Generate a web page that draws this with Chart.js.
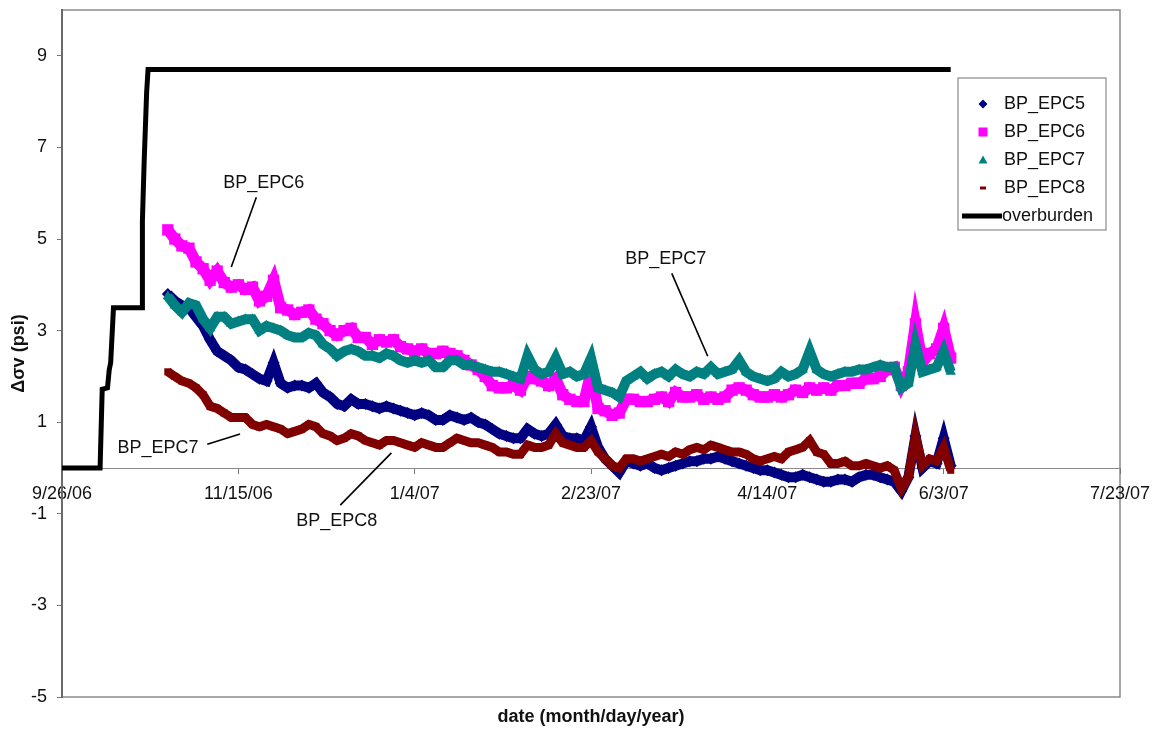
<!DOCTYPE html>
<html><head><meta charset="utf-8">
<script src="https://cdn.jsdelivr.net/npm/chart.js@4.4.1/dist/chart.umd.min.js"></script>
<style>html,body{margin:0;padding:0;background:#fff;} canvas{display:block;}</style>
</head><body>
<canvas id="c" width="1154" height="736"></canvas>
<script>
// ---- data (x = days since 9/26/06) ----
const days = [30,32,34,36,38,40,42,44,46,48,50,52,54,56,58,60,62,64,66,68,70,72,74,76,78,80,82,84,86,88,90,92,94,96,98,100,102,104,106,108,110,112,114,116,118,120,122,124,126,128,130,132,134,136,138,140,142,144,146,148,150,152,154,156,158,160,162,164,166,168,170,172,174,176,178,180,182,184,186,188,190,192,194,196,198,200,202,204,206,208,210,212,214,216,218,220,222,224,226,228,230,232,234,236,238,240,242,244,246,248,250,252];

const epc5 = [3.8,3.65,3.55,3.5,3.3,3.1,2.8,2.55,2.45,2.35,
2.2,2.15,2.05,1.95,1.9,2.3,1.85,1.75,1.8,1.8,
1.75,1.85,1.65,1.55,1.4,1.35,1.5,1.4,1.4,1.35,
1.3,1.35,1.3,1.25,1.2,1.15,1.2,1.15,1.05,1.05,
1.15,1.1,1.05,1.1,1.0,0.95,0.85,0.75,0.7,0.65,
0.65,0.85,0.75,0.7,0.75,0.95,0.7,0.65,0.65,0.6,
0.9,0.45,0.2,0.05,-0.1,0.15,0.1,0.05,0.1,0.0,
-0.05,0.0,0.05,0.1,0.15,0.15,0.2,0.2,0.25,0.2,
0.15,0.1,0.05,0.0,-0.05,-0.05,-0.1,-0.15,-0.2,-0.2,
-0.15,-0.2,-0.25,-0.3,-0.3,-0.25,-0.25,-0.3,-0.2,-0.15,
-0.15,-0.2,-0.25,-0.3,-0.5,-0.2,0.7,0.0,0.15,0.1,
0.65,0.05];

const epc6 = [5.2,5.0,4.85,4.8,4.5,4.35,4.1,4.3,4.05,3.95,
4.0,3.9,3.95,3.65,3.75,4.1,3.5,3.45,3.35,3.4,
3.45,3.25,3.15,3.0,2.9,3.0,3.05,2.85,2.85,2.7,
2.8,2.75,2.8,2.65,2.6,2.55,2.6,2.5,2.5,2.55,
2.5,2.45,2.35,2.25,2.15,2.0,1.8,1.75,1.75,1.8,
1.7,2.0,1.95,1.9,1.8,1.95,1.6,1.5,1.45,1.45,
2.1,1.3,1.25,1.15,1.2,1.5,1.5,1.45,1.45,1.5,
1.55,1.45,1.65,1.55,1.55,1.6,1.5,1.55,1.5,1.55,
1.7,1.75,1.7,1.6,1.55,1.55,1.6,1.55,1.6,1.7,
1.65,1.75,1.7,1.75,1.7,1.8,1.8,1.85,1.85,1.95,
1.95,2.0,2.15,2.2,1.8,2.1,3.15,2.3,2.5,2.6,
3.05,2.4];

const epc7 = [3.75,3.55,3.4,3.6,3.55,3.25,3.05,3.3,3.3,3.15,
3.2,3.25,3.25,3.0,3.1,3.05,3.0,2.9,2.85,2.85,
2.95,2.9,2.7,2.6,2.45,2.55,2.6,2.55,2.45,2.45,
2.4,2.5,2.45,2.35,2.3,2.35,2.3,2.35,2.2,2.2,
2.35,2.35,2.25,2.25,2.2,2.15,2.1,2.1,2.05,2.0,
1.95,2.45,2.15,2.05,2.1,2.4,2.05,2.1,2.0,2.05,
2.4,1.75,1.7,1.65,1.55,1.9,2.0,2.1,1.95,2.05,
2.1,2.0,2.15,2.05,2.0,2.1,2.05,2.2,2.05,2.1,
2.15,2.35,2.1,2.0,1.95,1.9,1.95,2.1,2.0,2.05,
2.15,2.55,2.15,2.05,2.0,2.05,2.1,2.1,2.15,2.15,
2.2,2.25,2.2,2.2,1.75,1.85,2.7,2.1,2.15,2.2,
2.55,2.1];

const epc8 = [2.1,2.0,1.9,1.85,1.75,1.6,1.35,1.3,1.2,1.1,
1.1,1.1,0.95,0.9,0.95,0.9,0.85,0.75,0.8,0.85,
0.95,0.9,0.75,0.7,0.6,0.65,0.75,0.7,0.6,0.55,
0.5,0.6,0.6,0.55,0.5,0.45,0.55,0.5,0.45,0.45,
0.55,0.65,0.6,0.55,0.55,0.5,0.45,0.35,0.35,0.3,
0.3,0.5,0.45,0.45,0.5,0.75,0.55,0.5,0.45,0.45,
0.6,0.35,0.2,0.05,0.0,0.2,0.2,0.15,0.2,0.25,
0.3,0.25,0.35,0.3,0.4,0.45,0.4,0.5,0.45,0.4,
0.35,0.35,0.3,0.2,0.15,0.2,0.25,0.2,0.35,0.4,
0.45,0.6,0.35,0.3,0.1,0.1,0.15,0.05,0.05,0.1,
0.05,0.0,0.05,-0.05,-0.45,-0.2,0.7,0.05,0.2,0.15,
0.45,-0.05];

const obDays   = [0, 10.8, 11.4, 12.9, 13.4, 13.8, 14.6, 22.7, 22.8, 23.3, 24.0, 24.4, 252];
const obValues = [0, 0,    1.72, 1.75, 2.15, 2.3,  3.5,  3.5,  5.4,  6.7,  8.2,  8.7,  8.7];

const seriesNames = ['BP_EPC5','BP_EPC6','BP_EPC7','BP_EPC8','overburden'];
const xTickDays   = [0,50,100,150,200,250,300];
const xTickLabels = ['9/26/06','11/15/06','1/4/07','2/23/07','4/14/07','6/3/07','7/23/07'];
const yTicks      = [-5,-3,-1,1,3,5,7,9];

// callouts: text and leader line ends, in data coordinates
const callouts = [
  {text:'BP_EPC6', at:[57.2,6.22], from:[55.1,5.91], to:[48.0,4.39]},
  {text:'BP_EPC7', at:[171.2,4.56], from:[172.9,4.25], to:[183.1,2.44]},
  {text:'BP_EPC7', at:[27.2,0.44], from:[41.2,0.52], to:[50.5,0.74]},
  {text:'BP_EPC8', at:[77.9,-1.16], from:[78.9,-0.81], to:[93.4,0.33]}
];

// ---- rendering ----
const FONT = "'Liberation Sans', Arial, sans-serif";
const TEXT = '#111';
const pts = (xs, ys) => xs.map((x, i) => ({x, y: ys[i]}));

const styles = [
  {color:'#000080', pointStyle:'rectRot',  radius:6, width:10, order:4},
  {color:'#FF00FF', pointStyle:'rect',     radius:8, width:11, order:3},
  {color:'#008080', pointStyle:'triangle', radius:6, width:10, order:2},
  {color:'#800000', pointStyle:'rect',     radius:5, width:9,  order:1}
];
const seriesData = [epc5, epc6, epc7, epc8];

const datasets = seriesData.map((vals, i) => ({
  label: seriesNames[i],
  data: pts(days, vals),
  showLine: true,
  borderColor: styles[i].color,
  backgroundColor: styles[i].color,
  pointBackgroundColor: styles[i].color,
  pointBorderColor: styles[i].color,
  borderWidth: styles[i].width,
  pointRadius: styles[i].radius,
  pointStyle: styles[i].pointStyle,
  pointBorderWidth: 0,
  tension: 0,
  order: styles[i].order
}));
datasets.push({
  label: seriesNames[4],
  data: pts(obDays, obValues),
  showLine: true,
  borderColor: '#000',
  backgroundColor: '#000',
  borderWidth: 5,
  pointRadius: 0,
  tension: 0,
  borderJoinStyle: 'miter',
  order: 0
});

function drawMarker(ctx, style, x, y, r, color) {
  ctx.fillStyle = color;
  ctx.beginPath();
  if (style === 'rectRot') {
    ctx.moveTo(x, y - r); ctx.lineTo(x + r, y); ctx.lineTo(x, y + r); ctx.lineTo(x - r, y);
  } else if (style === 'rect') {
    ctx.rect(x - r, y - r, 2 * r, 2 * r);
  } else if (style === 'triangle') {
    ctx.moveTo(x, y - r); ctx.lineTo(x + r, y + r * 0.8); ctx.lineTo(x - r, y + r * 0.8);
  } else if (style === 'dash') {
    ctx.rect(x - r, y - r / 2, 2 * r, r);
  }
  ctx.closePath();
  ctx.fill();
}

const framePlugin = {
  id: 'frame',
  beforeDraw(chart) {
    const {ctx, chartArea: a} = chart;
    ctx.save();
    ctx.fillStyle = '#fff';
    ctx.fillRect(0, 0, chart.width, chart.height);
    ctx.strokeStyle = '#8a8a8a';
    ctx.lineWidth = 1.5;
    ctx.strokeRect(a.left, a.top, a.right - a.left, a.bottom - a.top);
    ctx.restore();
  }
};

const calloutPlugin = {
  id: 'callouts',
  afterDatasetsDraw(chart) {
    const {ctx, scales: {x, y}} = chart;
    ctx.save();
    ctx.font = '18px ' + FONT;
    ctx.fillStyle = TEXT;
    ctx.textAlign = 'center';
    ctx.textBaseline = 'middle';
    ctx.strokeStyle = '#000';
    ctx.lineWidth = 1.6;
    callouts.forEach(c => {
      ctx.fillText(c.text, x.getPixelForValue(c.at[0]), y.getPixelForValue(c.at[1]));
      ctx.beginPath();
      ctx.moveTo(x.getPixelForValue(c.from[0]), y.getPixelForValue(c.from[1]));
      ctx.lineTo(x.getPixelForValue(c.to[0]), y.getPixelForValue(c.to[1]));
      ctx.stroke();
    });
    ctx.restore();
  }
};

const legendPlugin = {
  id: 'boxLegend',
  afterDraw(chart) {
    const {ctx, chartArea: a} = chart;
    const bx = a.right - 162, by = a.top + 68, bw = 148, bh = 152;
    ctx.save();
    ctx.fillStyle = '#fff';
    ctx.fillRect(bx, by, bw, bh);
    ctx.strokeStyle = '#8a8a8a';
    ctx.lineWidth = 1.2;
    ctx.strokeRect(bx, by, bw, bh);
    ctx.font = '18px ' + FONT;
    ctx.textBaseline = 'middle';
    ctx.textAlign = 'left';
    const legendMarks = [
      {style:'rectRot', r:4.5}, {style:'rect', r:4.5}, {style:'triangle', r:4.5}, {style:'dash', r:3}
    ];
    seriesNames.forEach((name, i) => {
      const ry = by + 26 + i * 28;
      if (i < 4) {
        drawMarker(ctx, legendMarks[i].style, bx + 25, ry, legendMarks[i].r, styles[i].color);
      } else {
        ctx.fillStyle = '#000';
        ctx.fillRect(bx + 4, ry - 2.5, 40, 5);
      }
      ctx.fillStyle = TEXT;
      ctx.fillText(name, i < 4 ? bx + 46 : bx + 44, ry);
    });
    ctx.restore();
  }
};

new Chart(document.getElementById('c'), {
  type: 'scatter',
  data: {datasets},
  options: {
    responsive: false,
    animation: false,
    devicePixelRatio: 1,
    layout: {padding: {top: 10, right: 34, left: 0, bottom: 0}},
    plugins: {legend: {display: false}, tooltip: {enabled: false}},
    scales: {
      x: {
        type: 'linear', min: 0, max: 300, position: {y: 0},
        afterBuildTicks: s => { s.ticks = xTickDays.map(v => ({value: v})); },
        afterFit: s => { s.paddingLeft = 0; s.paddingRight = 0; },
        ticks: {
          callback: (v, i) => xTickLabels[i],
          font: {family: FONT, size: 18}, color: TEXT, padding: 10,
          maxRotation: 0, autoSkip: false
        },
        grid: {drawOnChartArea: false, drawTicks: true, tickLength: 5, color: '#777'},
        border: {display: true, color: '#8a8a8a', width: 1}
      },
      xTitle: {
        type: 'linear', axis: 'x', min: 0, max: 300, position: 'bottom',
        ticks: {display: false},
        grid: {display: false, drawTicks: false},
        border: {display: false},
        title: {display: true, text: 'date (month/day/year)', color: TEXT,
                font: {family: FONT, size: 18, weight: 'bold'}, padding: {top: 0, bottom: 8}},
        afterFit: s => { s.height = 39; s.paddingLeft = 0; s.paddingRight = 0; }
      },
      y: {
        type: 'linear', min: -5, max: 10, position: 'left',
        afterBuildTicks: s => { s.ticks = yTicks.map(v => ({value: v})); },
        afterFit: s => { s.width = 62; s.paddingTop = 0; s.paddingBottom = 0; },
        ticks: {font: {family: FONT, size: 18}, color: TEXT, padding: 10},
        grid: {drawOnChartArea: false, drawTicks: true, tickLength: 5, color: '#777'},
        border: {display: true, color: '#6a6a6a', width: 2},
        title: {display: true, text: 'Δσv (psi)', color: TEXT,
                font: {family: FONT, size: 18, weight: 'bold'}, padding: {top: 8, bottom: 0}}
      }
    }
  },
  plugins: [framePlugin, calloutPlugin, legendPlugin]
});
</script>
</body></html>
